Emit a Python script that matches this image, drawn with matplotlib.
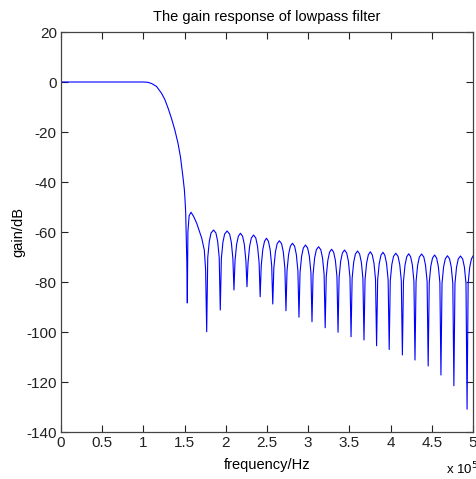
import matplotlib
matplotlib.use("Agg")
import matplotlib.pyplot as plt
from matplotlib import font_manager

# ---- data (frequency in units of 1e5 Hz, gain in dB) ----
passband_freq = [0.0, 1.00, 1.05, 1.10, 1.16, 1.22, 1.26, 1.30, 1.34, 1.38, 1.42, 1.45, 1.48, 1.497, 1.505, 1.513, 1.527, 1.533]
passband_gain = [0.0, 0.0, -0.1, -0.6, -1.8, -4.5, -7.0, -10.5, -14.5, -19.0, -24.5, -30.0, -38.0, -43.0, -47.0, -52.0, -72.0, -88.4]

first_lobe_freq = [1.540, 1.555, 1.578, 1.610, 1.647, 1.708, 1.739, 1.755, 1.768]
first_lobe_gain = [-60.0, -53.5, -52.1, -53.8, -56.5, -62.5, -67.2, -75.0, -99.9]

stopband_freq = [
    1.781, 1.800, 1.821, 1.851, 1.880, 1.901, 1.920, 1.933,
    1.946, 1.965, 1.986, 2.016, 2.046, 2.067, 2.086, 2.099,
    2.112, 2.131, 2.152, 2.178, 2.204, 2.225, 2.244, 2.257,
    2.270, 2.289, 2.310, 2.337, 2.364, 2.385, 2.404, 2.417,
    2.430, 2.449, 2.470, 2.494, 2.517, 2.538, 2.557, 2.570,
    2.583, 2.602, 2.623, 2.650, 2.677, 2.698, 2.717, 2.730,
    2.743, 2.762, 2.783, 2.809, 2.835, 2.856, 2.875, 2.888,
    2.901, 2.920, 2.941, 2.967, 2.993, 3.014, 3.033, 3.046,
    3.059, 3.078, 3.099, 3.126, 3.153, 3.174, 3.193, 3.206,
    3.219, 3.238, 3.259, 3.284, 3.309, 3.330, 3.349, 3.362,
    3.375, 3.394, 3.415, 3.441, 3.467, 3.488, 3.507, 3.520,
    3.533, 3.552, 3.573, 3.599, 3.624, 3.645, 3.664, 3.677,
    3.690, 3.709, 3.730, 3.754, 3.777, 3.798, 3.817, 3.830,
    3.843, 3.862, 3.883, 3.907, 3.930, 3.951, 3.970, 3.983,
    3.996, 4.015, 4.036, 4.063, 4.090, 4.111, 4.130, 4.143,
    4.156, 4.175, 4.196, 4.220, 4.243, 4.264, 4.283, 4.296,
    4.309, 4.328, 4.349, 4.376, 4.403, 4.424, 4.443, 4.456,
    4.469, 4.488, 4.509, 4.534, 4.558, 4.579, 4.598, 4.611,
    4.624, 4.643, 4.664, 4.690, 4.715, 4.736, 4.755, 4.768,
    4.781, 4.800, 4.821, 4.848, 4.875, 4.896, 4.915, 4.928,
    4.941, 4.960, 4.981, 5.000,
]
stopband_gain = [
    -70.2, -63.7, -60.4, -59.2, -60.4, -63.7, -70.2, -91.2,
    -70.6, -64.1, -60.8, -59.6, -60.8, -64.1, -70.6, -83.2,
    -71.5, -65.0, -61.7, -60.5, -61.7, -65.0, -71.5, -81.9,
    -72.2, -65.7, -62.4, -61.2, -62.4, -65.7, -72.2, -85.9,
    -73.5, -67.0, -63.7, -62.5, -63.7, -67.0, -73.5, -88.8,
    -74.5, -68.0, -64.7, -63.5, -64.7, -68.0, -74.5, -91.5,
    -75.5, -69.0, -65.7, -64.5, -65.7, -69.0, -75.5, -94.1,
    -76.2, -69.7, -66.4, -65.2, -66.4, -69.7, -76.2, -95.9,
    -76.9, -70.4, -67.1, -65.9, -67.1, -70.4, -76.9, -98.3,
    -77.9, -71.4, -68.1, -66.9, -68.1, -71.4, -77.9, -100.1,
    -78.2, -71.7, -68.4, -67.2, -68.4, -71.7, -78.2, -101.9,
    -78.6, -72.1, -68.8, -67.6, -68.8, -72.1, -78.6, -103.2,
    -78.9, -72.4, -69.1, -67.9, -69.1, -72.4, -78.9, -105.5,
    -79.1, -72.6, -69.3, -68.1, -69.3, -72.6, -79.1, -107.0,
    -79.5, -73.0, -69.7, -68.5, -69.7, -73.0, -79.5, -109.2,
    -79.7, -73.2, -69.9, -68.7, -69.9, -73.2, -79.7, -111.2,
    -79.8, -73.3, -70.0, -68.8, -70.0, -73.3, -79.8, -113.6,
    -80.2, -73.7, -70.4, -69.2, -70.4, -73.7, -80.2, -117.2,
    -80.5, -74.0, -70.7, -69.5, -70.7, -74.0, -80.5, -121.5,
    -80.6, -74.1, -70.8, -69.6, -70.8, -74.1, -80.6, -130.9,
    -80.6, -74.1, -70.8, -69.6,
]

x_ticks = [0, 0.5, 1, 1.5, 2, 2.5, 3, 3.5, 4, 4.5, 5]
x_ticklabels = ["0", "0.5", "1", "1.5", "2", "2.5", "3", "3.5", "4", "4.5", "5"]
y_ticks = [-140, -120, -100, -80, -60, -40, -20, 0, 20]

freq = passband_freq + first_lobe_freq + stopband_freq
gain = passband_gain + first_lobe_gain + stopband_gain

# ---- fonts ----
available = {f.name for f in font_manager.fontManager.ttflist}
fam = [n for n in ("Liberation Sans Narrow", "DejaVu Sans Condensed") if n in available]
fam += ["Liberation Sans", "DejaVu Sans"]
plt.rcParams["font.family"] = fam
plt.rcParams["axes.unicode_minus"] = False

fig = plt.figure(figsize=(4.77, 4.79), dpi=100)
ax = fig.add_axes([61 / 477, 47 / 479, 412 / 477, 400 / 479])
ax.plot(freq, gain, color="#0000ff", linewidth=0.8)

ax.set_xlim(0, 5)
ax.set_ylim(-140, 20)
ax.set_xticks(x_ticks)
ax.set_xticklabels(x_ticklabels)
ax.set_yticks(y_ticks)
ax.tick_params(direction="in", length=5, width=0.8, top=True, right=True,
               labelsize=11, colors="#222222", pad=3)
for s in ax.spines.values():
    s.set_color("#444444")
    s.set_linewidth(0.9)

ax.set_title("The gain response of lowpass filter", fontsize=10.5, pad=8)
ax.set_xlabel("frequency/Hz", fontsize=10.5, labelpad=6)
ax.set_ylabel("gain/dB", fontsize=10.5, labelpad=1)
fig.text(446 / 477, 1 - 474 / 479, r"x 10$^5$", fontsize=9.5, ha="left", va="baseline")

fig.savefig("out.png", dpi=100)
